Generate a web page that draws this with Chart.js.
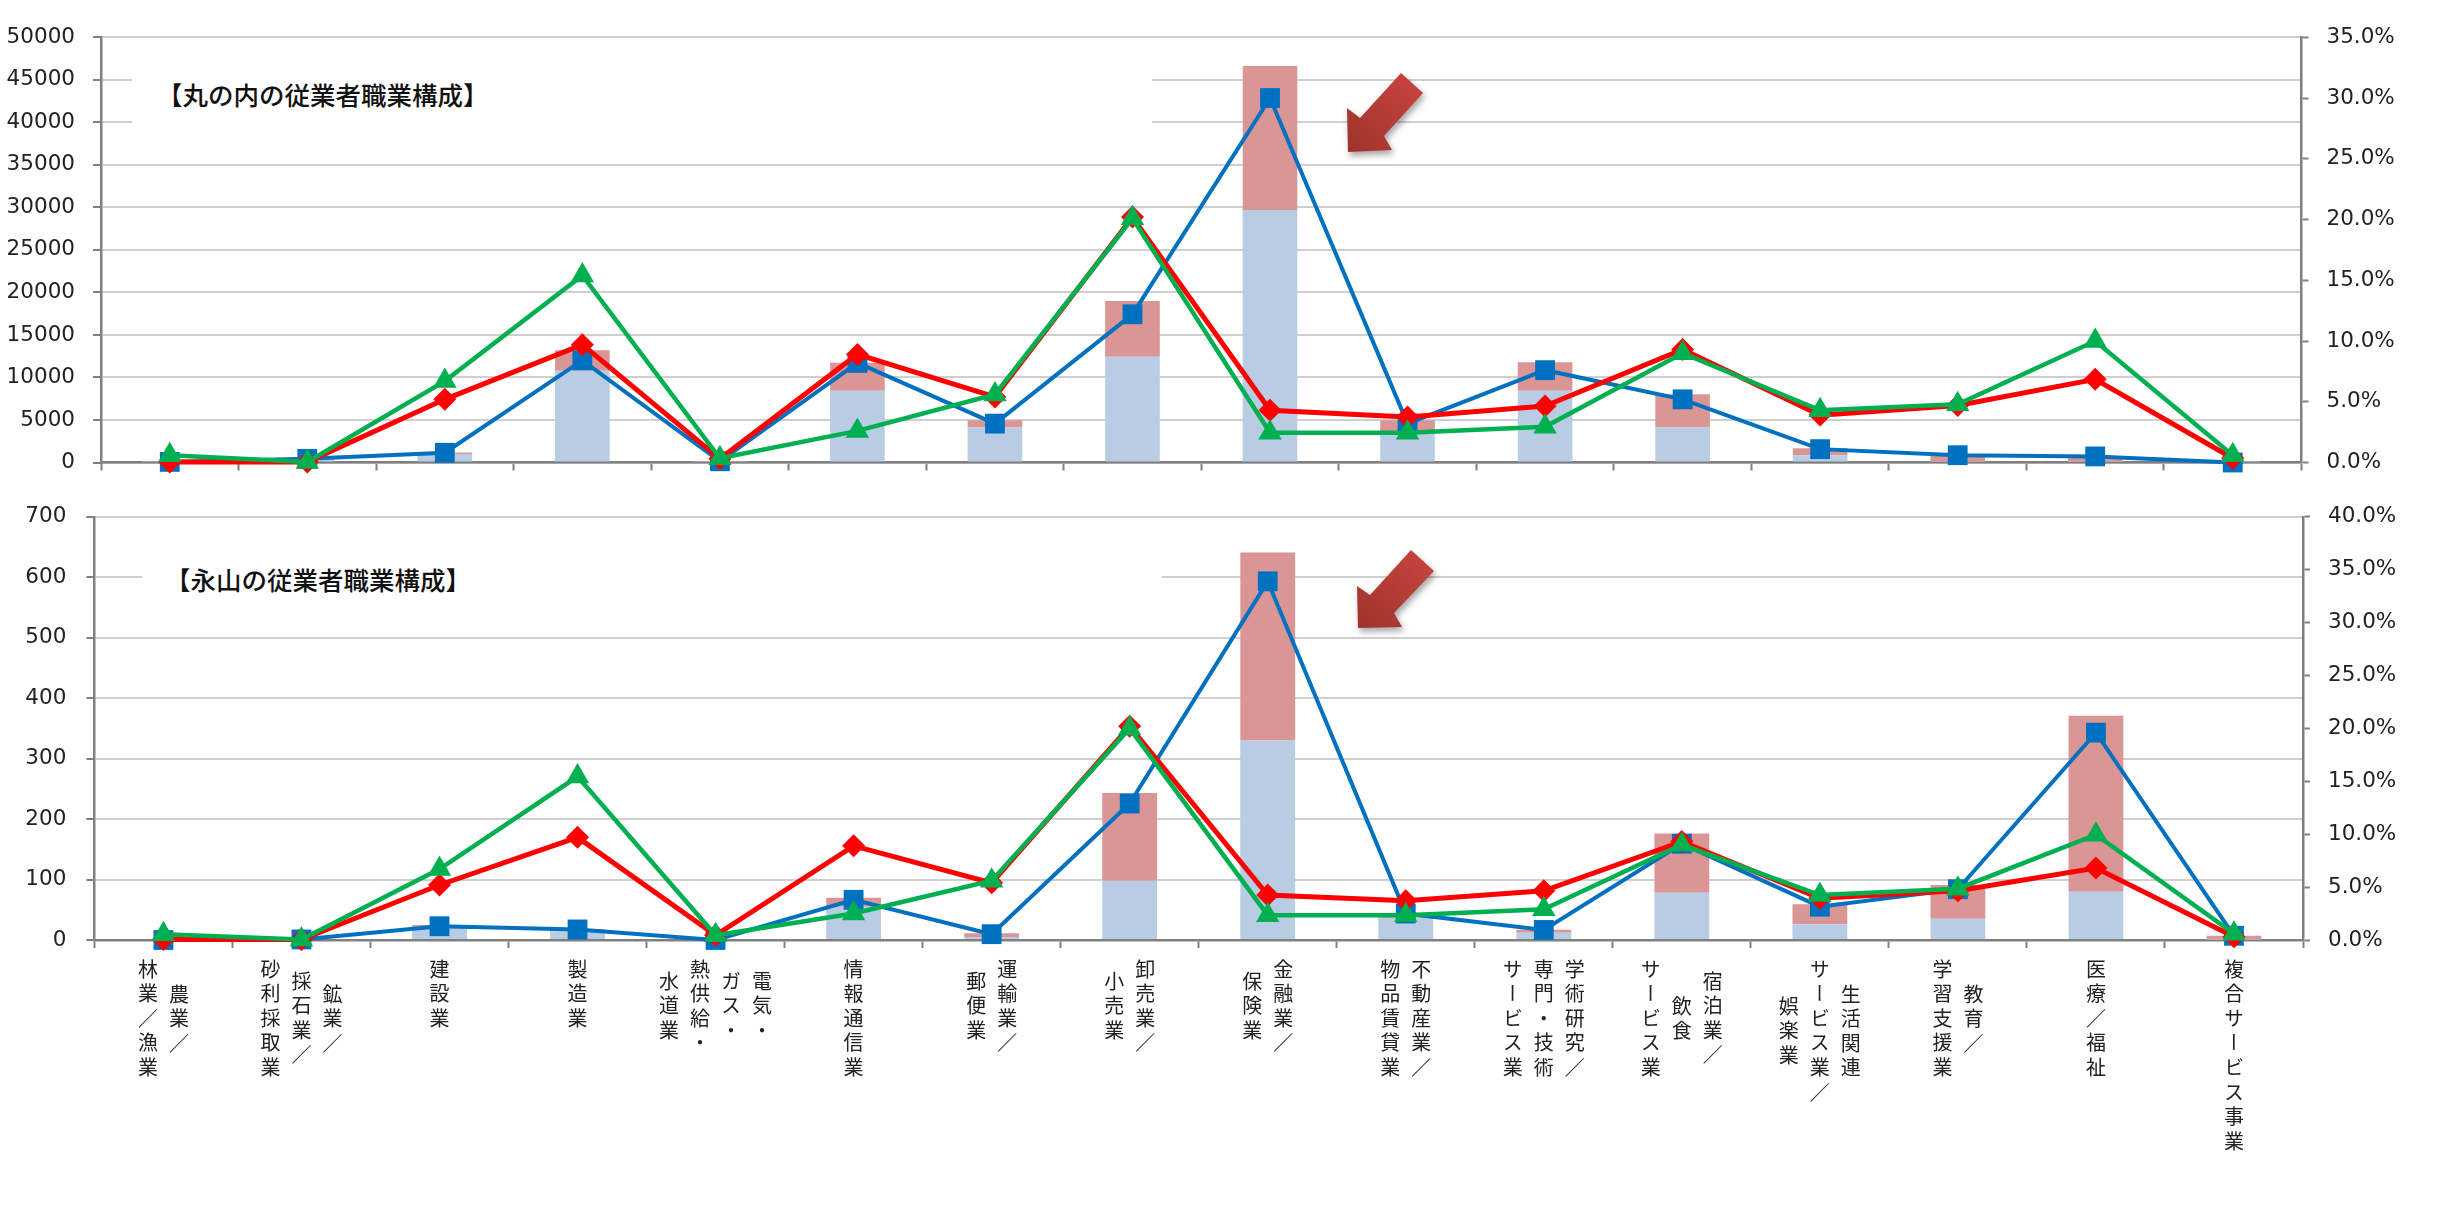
<!DOCTYPE html>
<html lang="ja">
<head>
<meta charset="utf-8">
<title>従業者職業構成</title>
<script src="https://cdn.jsdelivr.net/npm/chart.js@4"></script>
<style>
  html, body { margin: 0; padding: 0; background: #fff; }
  #page { position: relative; width: 2446px; height: 1210px; overflow: hidden; }
  canvas { position: absolute; left: 0; }
  .note { position: absolute; background: #fff; font: 500 25.5px "Noto Sans CJK JP", sans-serif; color: #111; white-space: nowrap; }
  .note span { position: relative; }
  .cat {
    position: absolute; top: 959px; transform: translateX(-50%);
    writing-mode: vertical-rl; text-orientation: upright; white-space: pre; text-align: center;
    font: 20px/31px "Noto Sans CJK JP", sans-serif; letter-spacing: 4.6px; color: #222;
  }
  svg { position: absolute; left: 0; top: 0; overflow: visible; }
</style>
</head>
<body>
<div id="page">
  <canvas id="chart-top" style="top:0"></canvas>
  <canvas id="chart-bottom" style="top:480px"></canvas>
  <div class="note" style="left:132px;top:72px;width:1020px;height:58px;line-height:58px"><span style="left:25px;top:-7px">【丸の内の従業者職業構成】</span></div>
  <div class="note" style="left:142px;top:556px;width:1020px;height:46px;line-height:46px"><span style="left:23px">【永山の従業者職業構成】</span></div>
  <svg width="2446" height="1210">
    <defs>
      <linearGradient id="arrowFill" x1="0" y1="1" x2="1" y2="0">
        <stop offset="0" stop-color="#9e332c"/>
        <stop offset="1" stop-color="#cc4540"/>
      </linearGradient>
    </defs>
    <g style="filter: drop-shadow(2px 4px 3px rgba(0,0,0,.35))">
      <polygon fill="url(#arrowFill)" points="1348,152 1347,108 1360,118 1401,73 1423,93 1384,136 1392,150"/>
      <polygon fill="url(#arrowFill)" points="1358,628 1357,586 1370,595 1411,550 1434,571 1394,613 1402,627"/>
    </g>
  </svg>
</div>

<script>
// Chart data

const categoryLines = [
  ['農業／', '林業／漁業'],
  ['鉱業／', '採石業／', '砂利採取業'],
  ['建設業'],
  ['製造業'],
  ['電気・', 'ガス・', '熱供給・', '水道業'],
  ['情報通信業'],
  ['運輸業／', '郵便業'],
  ['卸売業／', '小売業'],
  ['金融業／', '保険業'],
  ['不動産業／', '物品賃貸業'],
  ['学術研究／', '専門・技術', 'サービス業'],
  ['宿泊業／', '飲食', 'サービス業'],
  ['生活関連', 'サービス業／', '娯楽業'],
  ['教育／', '学習支援業'],
  ['医療／福祉'],
  ['複合サービス事業']
];

// 丸の内
const topBarLower = [100, 350, 1000, 10800, 100, 8430, 4120, 12430, 29690, 3410, 8430, 4120, 860, 100, 100, 20];
const topBarUpper = [50, 150, 180, 2400, 50, 3300, 860, 6550, 16940, 1570, 3370, 3920, 830, 800, 500, 20];
const topBlue = [0.05, 0.3, 0.8, 8.4, 0.1, 8.2, 3.2, 12.2, 30.0, 3.2, 7.6, 5.2, 1.1, 0.6, 0.5, 0.0];
const topRed = [0.05, 0.05, 5.2, 9.7, 0.3, 8.9, 5.4, 20.2, 4.3, 3.75, 4.65, 9.3, 3.9, 4.7, 6.85, 0.35];
const topGreen = [0.6, 0.05, 6.7, 15.4, 0.35, 2.6, 5.6, 20.1, 2.45, 2.45, 2.95, 9.0, 4.3, 4.8, 10.0, 0.6];

// 永山
const bottomBarLower = [0, 0, 22, 14, 0, 55, 5, 98, 330, 37, 12, 78, 26, 35, 80, 1];
const bottomBarUpper = [0, 0, 3, 4, 0, 15, 6, 145, 311, 2, 5, 98, 33, 56, 291, 6];
const bottomBlue = [0.0, 0.05, 1.3, 1.0, 0.0, 3.8, 0.55, 12.9, 33.9, 2.5, 0.95, 9.1, 3.15, 4.8, 19.6, 0.4];
const bottomRed = [0.05, 0.05, 5.2, 9.7, 0.45, 8.9, 5.4, 20.2, 4.25, 3.7, 4.65, 9.3, 3.95, 4.65, 6.8, 0.3];
const bottomGreen = [0.55, 0.05, 6.7, 15.45, 0.45, 2.5, 5.6, 20.0, 2.35, 2.35, 2.9, 9.0, 4.25, 4.85, 9.95, 0.6];

const AXIS_GRAY = '#808080';
const GRID_GRAY = '#cfcfcf';
const TICK_FONT = { family: "'DejaVu Sans', sans-serif", size: 21.5 };

function lineDataset(data, color, pointStyle, radius, width, order) {
  return {
    type: 'line', data, yAxisID: 'y1', order, clip: false,
    borderColor: color, backgroundColor: color, borderWidth: width, tension: 0,
    pointStyle, pointRadius: radius, pointBackgroundColor: color, pointBorderColor: color, pointBorderWidth: 0
  };
}

function makeChart(id, opts) {
  const canvas = document.getElementById(id);
  canvas.width = 2446;
  canvas.height = opts.height;
  canvas.style.width = '2446px';
  canvas.style.height = opts.height + 'px';

  return new Chart(canvas, {
    type: 'bar',
    data: {
      labels: categoryLines.map(c => c.join('')),
      datasets: [
        // stacking follows order, so the lower part needs the smaller number
        { label: 'lower', data: opts.lower, backgroundColor: '#b8cce4', stack: 's', yAxisID: 'y', order: 5, barPercentage: 0.397, categoryPercentage: 1 },
        { label: 'upper', data: opts.upper, backgroundColor: '#d99694', stack: 's', yAxisID: 'y', order: 6, barPercentage: 0.397, categoryPercentage: 1 },
        lineDataset(opts.blue, '#0070c0', 'rect', 14, 4, 3),
        lineDataset(opts.red, '#ff0000', 'rectRot', 11.5, 5, 2),
        lineDataset(opts.green, '#00b050', 'triangle', 13.5, 4.5, 1)
      ]
    },
    options: {
      responsive: false,
      animation: false,
      devicePixelRatio: 1,
      layout: { padding: { top: opts.top, left: 0, right: 0, bottom: 0 } },
      plugins: { legend: { display: false }, tooltip: { enabled: false }, title: { display: false } },
      scales: {
        x: {
          stacked: true,
          offset: true,
          afterFit: s => { s.height = opts.height - opts.bottom; },
          ticks: { display: false },
          border: { color: AXIS_GRAY, width: 2.5 },
          grid: { offset: true, drawOnChartArea: false, tickLength: 8, tickColor: AXIS_GRAY, tickWidth: 2 }
        },
        y: {
          stacked: true,
          position: 'left',
          min: 0,
          max: opts.leftMax,
          afterFit: s => { s.width = opts.left; },
          ticks: { stepSize: opts.leftStep, color: '#222', font: TICK_FONT, padding: opts.leftPad, labelOffset: 0, callback: v => String(v) },
          border: { color: AXIS_GRAY, width: 2.5 },
          grid: { color: GRID_GRAY, lineWidth: 2, tickColor: AXIS_GRAY, tickLength: 8, tickWidth: 2 }
        },
        y1: {
          position: 'right',
          min: 0,
          max: opts.rightMax,
          afterFit: s => { s.width = 2446 - opts.right; },
          ticks: { stepSize: 5, color: '#222', font: TICK_FONT, padding: 18, labelOffset: 0, callback: v => v.toFixed(1) + '%' },
          border: { color: AXIS_GRAY, width: 2.5 },
          grid: { drawOnChartArea: false, tickColor: AXIS_GRAY, tickLength: 7, tickWidth: 2 }
        }
      }
    }
  });
}

makeChart('chart-top', {
  height: 530, top: 37.3, bottom: 462.5, left: 101, right: 2301.5,
  leftMax: 50000, leftStep: 5000, leftPad: 18, rightMax: 35,
  lower: topBarLower, upper: topBarUpper, blue: topBlue, red: topRed, green: topGreen
});

const bottomChart = makeChart('chart-bottom', {
  height: 520, top: 36.8, bottom: 460, left: 94.4, right: 2303,
  leftMax: 700, leftStep: 100, leftPad: 20, rightMax: 40,
  lower: bottomBarLower, upper: bottomBarUpper, blue: bottomBlue, red: bottomRed, green: bottomGreen
});

// category labels run vertically, so they go in as text placed from the bottom chart's x scale
const page = document.getElementById('page');
categoryLines.forEach((lines, i) => {
  const el = document.createElement('div');
  el.className = 'cat';
  el.textContent = lines.join('\n');
  el.style.left = bottomChart.scales.x.getPixelForValue(i) + 'px';
  page.appendChild(el);
});
</script>
</body>
</html>
